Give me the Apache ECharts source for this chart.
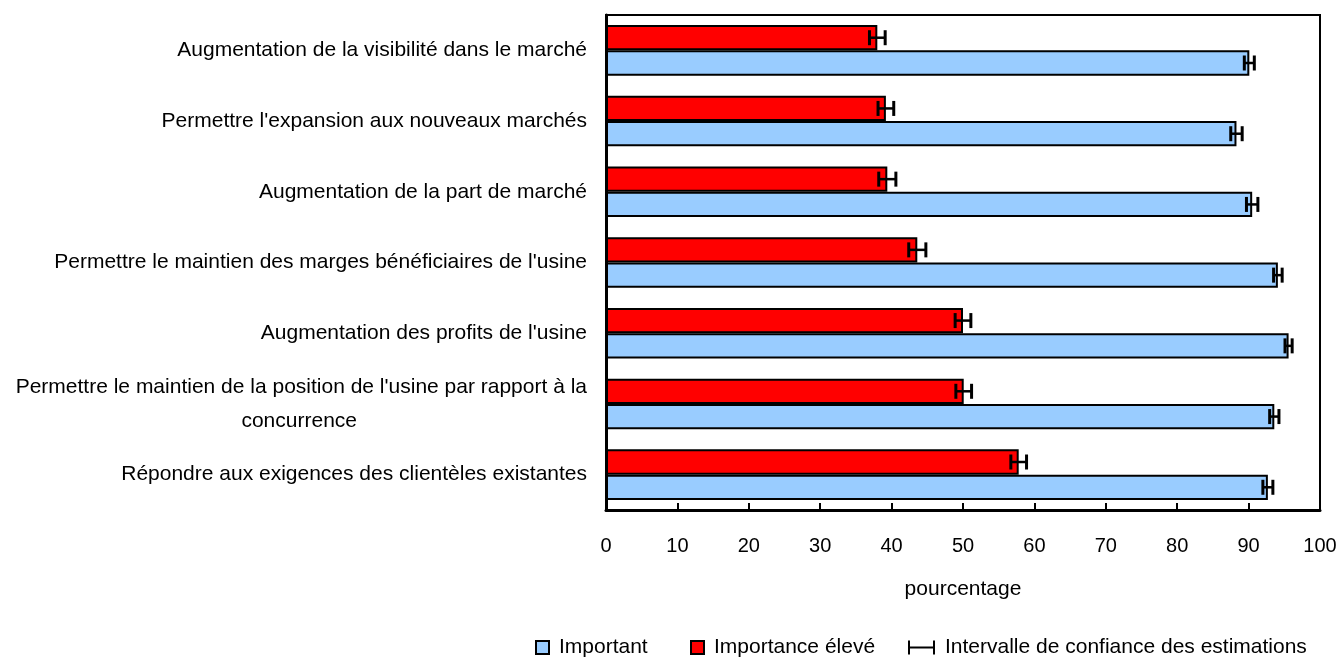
<!DOCTYPE html>
<html>
<head>
<meta charset="utf-8">
<script src="https://cdn.jsdelivr.net/npm/echarts@6/dist/echarts.min.js"></script>
<style>
    html, body { margin: 0; padding: 0; background: #fff; }
    #chart { width: 1341px; height: 658px; }
</style>
</head>
<body>
<div id="chart"></div>
<script>
// categories, top to bottom
var categories = [
    "Augmentation de la visibilité dans le marché",
    "Permettre l'expansion aux nouveaux marchés",
    "Augmentation de la part de marché",
    "Permettre le maintien des marges bénéficiaires de l'usine",
    "Augmentation des profits de l'usine",
    "Permettre le maintien de la position de l'usine par rapport à la\nconcurrence",
    "Répondre aux exigences des clientèles existantes"
];

var eleve = [38.0, 39.2, 39.4, 43.6, 50.0, 50.1, 57.8];        // Importance élevé
var eleveErr = [1.1, 1.1, 1.2, 1.2, 1.1, 1.1, 1.1];
var important = [90.1, 88.3, 90.5, 94.1, 95.6, 93.6, 92.7];    // Important
var importantErr = [0.7, 0.8, 0.8, 0.6, 0.5, 0.65, 0.7];

var FONT = "'Liberation Sans', Arial, sans-serif";
var GAP = 0.285; // barCategoryGap

function each(arr, fn) {
    for (var i = 0; i < arr.length; i++) fn(i, arr[i]);
}

// points for the error bars : [value, category, err, position 0=haut 1=bas]
var errData = [];
each(eleve, function (i, v) { errData.push([v, i, eleveErr[i], 0]); });
each(important, function (i, v) { errData.push([v, i, importantErr[i], 1]); });

function renderErr(params, api) {
    var v = api.value(0), c = api.value(1), e = api.value(2), p = api.value(3);
    var band = api.size([0, 1])[1];
    var barW = band * (1 - GAP) / 2;
    var mid = api.coord([v, c]);
    var y = mid[1] + (p === 0 ? -barW / 2 : barW / 2);
    var lo = api.coord([v - e, c])[0];
    var hi = api.coord([v + e, c])[0];
    var h = 7.5;
    var st = { stroke: '#000', lineWidth: 2.5 };
    var cap = { stroke: '#000', lineWidth: 3 };
    return {
        type: 'group',
        children: [
            { type: 'line', shape: { x1: lo, y1: y, x2: hi, y2: y }, style: st },
            { type: 'line', shape: { x1: lo, y1: y - h, x2: lo, y2: y + h }, style: cap },
            { type: 'line', shape: { x1: hi, y1: y - h, x2: hi, y2: y + h }, style: cap }
        ]
    };
}

var legendText = { fontFamily: FONT, fontSize: 21, color: '#000', padding: [0, 0, 0, 5] };

var option = {
    animation: false,
    textStyle: { fontFamily: FONT },
    grid: {
        left: 606, right: 21, top: 15, bottom: 148,
        show: true, borderColor: '#000', borderWidth: 2
    },
    legend: [
        {
            left: 535, top: 637, padding: 0, selectedMode: false,
            itemWidth: 13, itemHeight: 13,
            itemStyle: { borderColor: '#000', borderWidth: 2 },
            textStyle: legendText,
            data: [{ name: 'Important', icon: 'rect' }]
        },
        {
            left: 690, top: 637, padding: 0, selectedMode: false,
            itemWidth: 13, itemHeight: 13,
            itemStyle: { borderColor: '#000', borderWidth: 2 },
            textStyle: legendText,
            data: [{ name: 'Importance élevé', icon: 'rect' }]
        },
        {
            left: 908, top: 637, padding: 0, selectedMode: false,
            itemWidth: 27, itemHeight: 14,
            textStyle: legendText,
            data: [{
                name: 'Intervalle de confiance des estimations',
                icon: 'path://M0,0H2V14H0ZM0,6H27V8H0ZM25,0H27V14H25Z'
            }]
        }
    ],
    xAxis: {
        type: 'value',
        min: 0, max: 100, interval: 10,
        name: 'pourcentage',
        nameLocation: 'middle',
        nameGap: 69,
        nameTextStyle: { fontFamily: FONT, fontSize: 21, color: '#000' },
        axisLine: { show: true, lineStyle: { color: '#000', width: 3 } },
        axisTick: { show: true, inside: true, length: 7, lineStyle: { color: '#000', width: 2 } },
        axisLabel: { fontFamily: FONT, fontSize: 20, color: '#000', margin: 26 },
        splitLine: { show: false }
    },
    yAxis: {
        type: 'category',
        inverse: true,
        data: categories,
        axisLine: { show: true, lineStyle: { color: '#000', width: 3 } },
        axisTick: { show: false },
        axisLabel: {
            fontFamily: FONT, fontSize: 21, color: '#000', margin: 19,
            align: 'right',
            formatter: function (val) {
                if (val.indexOf('\n') < 0) return val;
                var parts = val.split('\n');
                return '{a|' + parts[0] + '}\n{b|' + parts[1] + '}';
            },
            rich: {
                a: { fontFamily: FONT, fontSize: 21, color: '#000', lineHeight: 34 },
                b: { fontFamily: FONT, fontSize: 21, color: '#000', lineHeight: 34, padding: [0, 230, 0, 0] }
            }
        }
    },
    series: [
        {
            name: 'Importance élevé',
            type: 'bar',
            barGap: '0%',
            barCategoryGap: (GAP * 100) + '%',
            itemStyle: { color: '#ff0000', borderColor: '#000', borderWidth: 2 },
            data: eleve
        },
        {
            name: 'Important',
            type: 'bar',
            barGap: '0%',
            barCategoryGap: (GAP * 100) + '%',
            itemStyle: { color: '#99ccff', borderColor: '#000', borderWidth: 2 },
            data: important
        },
        {
            name: 'Intervalle de confiance des estimations',
            type: 'custom',
            z: 5,
            itemStyle: { color: '#000' },
            encode: { x: 0, y: 1 },
            renderItem: renderErr,
            data: errData
        }
    ]
};

echarts.init(document.getElementById('chart')).setOption(option);
</script>
</body>
</html>
